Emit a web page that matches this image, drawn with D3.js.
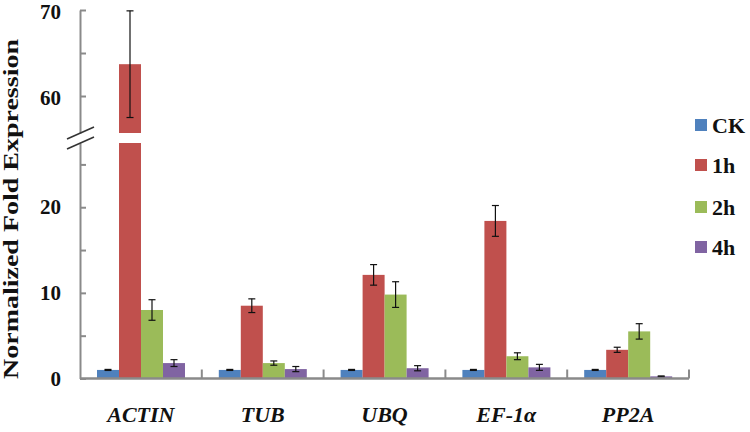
<!DOCTYPE html>
<html>
<head>
<meta charset="utf-8">
<script src="https://cdn.jsdelivr.net/npm/d3@7"></script>
<style>
  html, body { margin: 0; padding: 0; background: #fff; }
  svg { display: block; }
</style>
</head>
<body>
<div id="chart"></div>
<script>
// ---- data ----
const categories = ["ACTIN", "TUB", "UBQ", "EF-1\u03b1", "PP2A"];
const seriesNames = ["CK", "1h", "2h", "4h"];
const ckValues  = [1.0, 1.0, 1.0, 1.0, 1.0];
const h1Values  = [63.7, 8.5, 12.1, 18.4, 3.35];
const h2Values  = [8.0, 1.8, 9.8, 2.6, 5.5];
const h4Values  = [1.8, 1.1, 1.2, 1.3, 0.25];
const ckErr = [0.06, 0.06, 0.06, 0.06, 0.06];
const h1Err = [6.2, 0.8, 1.2, 1.8, 0.3];
const h2Err = [1.2, 0.25, 1.5, 0.4, 0.9];
const h4Err = [0.4, 0.3, 0.3, 0.35, 0.05];
const lowerTicks = [0, 5, 10, 15, 20, 25];
const upperTicks = [60, 65, 70];
const tickLabels = [0, 10, 20, 60, 70];
const breakLow = 27.5, breakHigh = 55.7, yMax = 70;

const colors = ["#4F81BD", "#C0504D", "#9BBB59", "#8064A2"];
const seriesValues = [ckValues, h1Values, h2Values, h4Values];
const seriesErr = [ckErr, h1Err, h2Err, h4Err];

const W = 750, H = 432;
const svg = d3.select("#chart").append("svg").attr("width", W).attr("height", H);

const left = 80, right = 689;
const yLow = d3.scaleLinear().domain([0, breakLow]).range([378.5, 143]);
const yHigh = d3.scaleLinear().domain([breakHigh, yMax]).range([133, 10]);

const x0 = d3.scaleBand().domain(categories).range([left, right]).padding(0);
const x1 = d3.scaleBand().domain(seriesNames).range([17, 105]).padding(0);

const axisColor = "#8a8a8a";
const serif = "'Liberation Serif', 'Times New Roman', serif";

// bars
const data = [];
categories.forEach((c, i) => {
  seriesNames.forEach((s, j) => {
    data.push({cat: c, ser: s, v: seriesValues[j][i], e: seriesErr[j][i], color: colors[j]});
  });
});

const g = svg.append("g");
data.forEach(d => {
  const bx = x0(d.cat) + x1(d.ser);
  const bw = x1.bandwidth();
  if (d.v <= breakLow) {
    g.append("rect").attr("x", bx).attr("y", yLow(d.v)).attr("width", bw)
      .attr("height", yLow(0) - yLow(d.v)).attr("fill", d.color);
  } else {
    g.append("rect").attr("x", bx).attr("y", yLow(breakLow)).attr("width", bw)
      .attr("height", yLow(0) - yLow(breakLow)).attr("fill", d.color);
    g.append("rect").attr("x", bx).attr("y", yHigh(d.v)).attr("width", bw)
      .attr("height", yHigh(breakHigh) - yHigh(d.v)).attr("fill", d.color);
  }
});

// error bars
const yAny = v => v <= breakLow ? yLow(v) : yHigh(v);
data.forEach(d => {
  const cx = x0(d.cat) + x1(d.ser) + x1.bandwidth() / 2;
  const yt = yAny(d.v + d.e), yb = yAny(d.v - d.e);
  const eg = svg.append("g").attr("stroke", "#111").attr("stroke-width", 1.2);
  eg.append("line").attr("x1", cx).attr("x2", cx).attr("y1", yt).attr("y2", yb);
  eg.append("line").attr("x1", cx - 3.5).attr("x2", cx + 3.5).attr("y1", yt).attr("y2", yt);
  eg.append("line").attr("x1", cx - 3.5).attr("x2", cx + 3.5).attr("y1", yb).attr("y2", yb);
});

// y axes
function styleAxis(sel) {
  sel.selectAll("path.domain").attr("stroke", axisColor).attr("stroke-width", 2);
  sel.selectAll(".tick line").attr("stroke", axisColor).attr("stroke-width", 2);
  sel.selectAll("text").attr("font-family", serif).attr("font-size", 21)
    .attr("font-weight", "bold").attr("fill", "#111");
}
const fmt = v => tickLabels.includes(v) ? String(v) : "";
const lowAxis = svg.append("g").attr("transform", `translate(${left},0)`)
  .call(d3.axisLeft(yLow).tickValues(lowerTicks).tickFormat(fmt).tickSizeInner(-6).tickSizeOuter(0).tickPadding(19));
styleAxis(lowAxis);
const highAxis = svg.append("g").attr("transform", `translate(${left},0)`)
  .call(d3.axisLeft(yHigh).tickValues(upperTicks).tickFormat(fmt).tickSizeInner(-6).tickSizeOuter(0).tickPadding(19));
styleAxis(highAxis);
highAxis.selectAll("text").attr("dy", "0.4em");

// break marks
const bk = svg.append("g").attr("stroke", "#333").attr("stroke-width", 1.5);
[yHigh(breakHigh), yLow(breakLow)].forEach(yc => {
  bk.append("line").attr("x1", left - 13).attr("y1", yc + 6).attr("x2", left + 14).attr("y2", yc - 6);
});

// x axis
const xBase = yLow(0);
svg.append("line").attr("x1", left).attr("x2", right).attr("y1", xBase).attr("y2", xBase)
  .attr("stroke", axisColor).attr("stroke-width", 2.5);
categories.forEach(c => {
  const xe = x0(c) + x0.bandwidth();
  svg.append("line").attr("x1", xe).attr("x2", xe).attr("y1", xBase).attr("y2", xBase - 9)
    .attr("stroke", axisColor).attr("stroke-width", 2);
});
categories.forEach(c => {
  svg.append("text").attr("x", x0(c) + x0.bandwidth() / 2).attr("y", 422)
    .attr("text-anchor", "middle").attr("font-family", serif).attr("font-size", 22)
    .attr("font-weight", "bold").attr("font-style", "italic").attr("fill", "#111").text(c);
});

// y label
svg.append("text").attr("transform", "translate(18,209) rotate(-90)")
  .attr("text-anchor", "middle").attr("font-family", serif).attr("font-size", 21)
  .attr("font-weight", "bold").attr("fill", "#111")
  .attr("textLength", 340).attr("lengthAdjust", "spacingAndGlyphs")
  .text("Normalized Fold Expression");

// legend
const legendY = [125, 165, 207, 247];
seriesNames.forEach((s, j) => {
  svg.append("rect").attr("x", 695).attr("y", legendY[j] - 6).attr("width", 12).attr("height", 12)
    .attr("fill", colors[j]);
  svg.append("text").attr("x", 712).attr("y", legendY[j] + 8).attr("font-family", serif)
    .attr("font-size", 22).attr("font-weight", "bold").attr("fill", "#111").text(s);
});
</script>
</body>
</html>
